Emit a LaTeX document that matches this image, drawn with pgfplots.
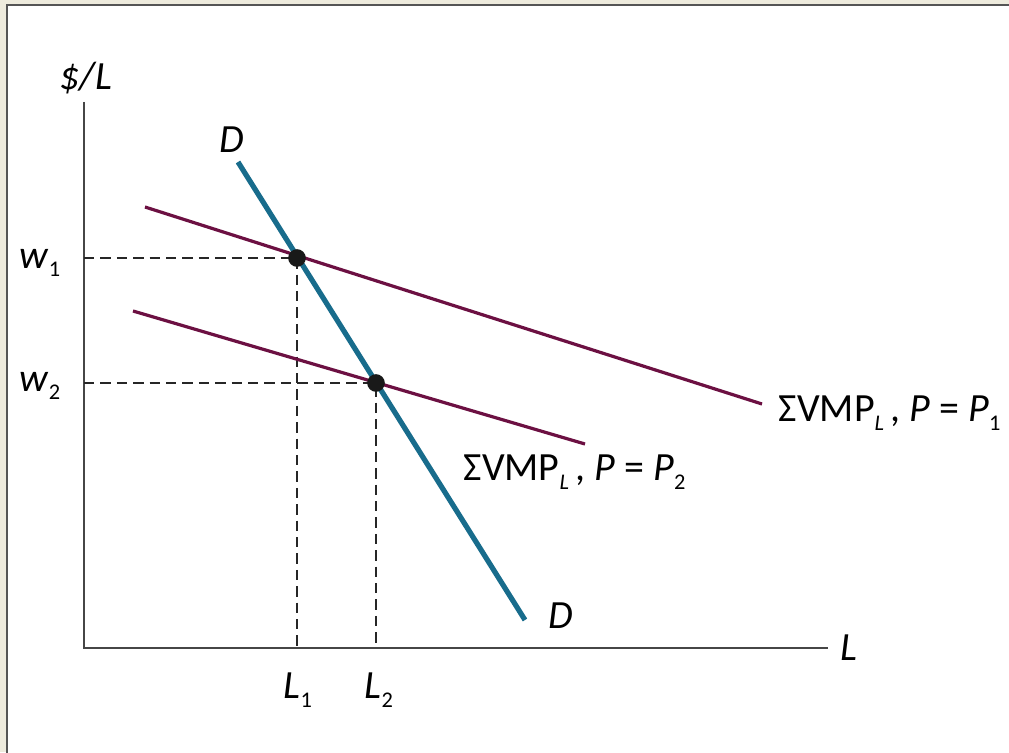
\documentclass[border=0pt]{standalone}
\usepackage{fontspec}
\setmainfont{Carlito}
\usepackage{pgfplots}
\pgfplotsset{compat=1.18}

\definecolor{frame}{RGB}{238,235,221}
\definecolor{rim}{RGB}{85,85,85}
\definecolor{demand}{RGB}{24,108,140}
\definecolor{vmp}{RGB}{108,16,66}
\definecolor{axisgray}{RGB}{70,70,70}

\newcommand{\sub}[1]{\raisebox{-0.45ex}{\fontsize{5.6}{6}\selectfont #1}}

\begin{document}
\begin{tikzpicture}
\begin{axis}[
  scale only axis,
  width=252.25pt, height=188pt,
  xmin=0, xmax=1009, ymin=0, ymax=752,
  hide axis,
  axis background/.style={fill=frame},
  every node/.style={font=\fontsize{8.8}{10}\selectfont},
]
% panel and its rim
\addplot[fill=white, draw=none] coordinates {(7,0)(7,747)(1009,747)(1009,0)} \closedcycle;
\addplot[draw=rim, line width=0.5pt] coordinates {(7,-5)(7,747)(1015,747)};
% axes
\addplot[draw=axisgray, line width=0.5pt] coordinates {(84,650)(84,104)(828,104)};
% dashed guides
\addplot[dashed, dash pattern=on 2.6pt off 1.5pt, line width=0.35pt, black!85]
  coordinates {(84,494)(297,494)(297,104)};
\addplot[dashed, dash pattern=on 2.6pt off 1.5pt, line width=0.35pt, black!85]
  coordinates {(84,369)(376,369)(376,104)};
% VMP curves
\addplot[draw=vmp, line width=0.8pt] coordinates {(145,545)(762,348)};
\addplot[draw=vmp, line width=0.8pt] coordinates {(133,441)(585,308)};
% demand
\addplot[draw=demand, line width=1.3pt] coordinates {(238,590)(525,132)};
% equilibria
\addplot[only marks, mark=*, mark size=2pt, black!90] coordinates {(297,494)(376,369)};

\node at (axis cs:86,674) {\textit{\$/L}};
\node at (axis cs:40,489) {\textit{w}\sub{1}};
\node at (axis cs:40,366) {\textit{w}\sub{2}};
\node at (axis cs:298,62) {\textit{L}\sub{1}};
\node at (axis cs:379,62) {\textit{L}\sub{2}};
\node at (axis cs:849,104) {\textit{L}};
\node at (axis cs:232,612) {\textit{D}};
\node at (axis cs:561,136) {\textit{D}};
\node[anchor=west, inner sep=0pt] at (axis cs:778,339)
  {ΣVMP\sub{\textit{L}}\,, \textit{P} = \textit{P}\sub{1}};
\node[anchor=west, inner sep=0pt] at (axis cs:463,280)
  {ΣVMP\sub{\textit{L}}\,, \textit{P} = \textit{P}\sub{2}};
\end{axis}
\end{tikzpicture}
\end{document}
